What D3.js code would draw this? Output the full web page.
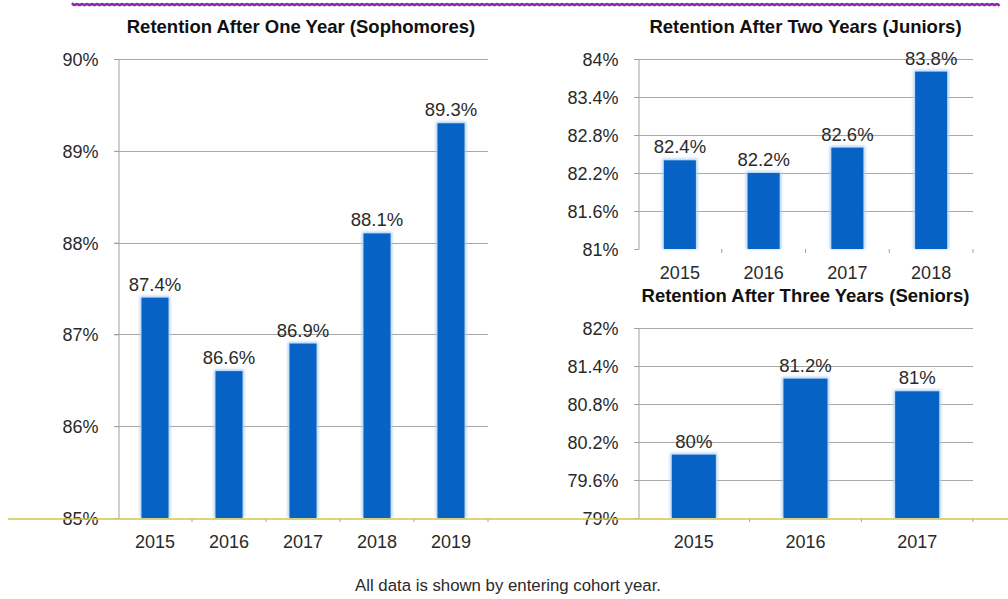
<!DOCTYPE html>
<html>
<head>
<meta charset="utf-8">
<script src="https://cdn.jsdelivr.net/npm/d3@7/dist/d3.min.js"></script>
<style>
  html, body { margin: 0; padding: 0; background: #fff; }
  svg { display: block; }
  text { font-family: "Liberation Sans", Arial, Helvetica, sans-serif; }
</style>
</head>
<body>
<svg id="chart" width="1008" height="599"></svg>
<script>
// Retention by entering cohort year
const sophYears = ["2015", "2016", "2017", "2018", "2019"];
const sophValues = [87.4, 86.6, 86.9, 88.1, 89.3];
const sophTicks = [85, 86, 87, 88, 89, 90];

const junYears = ["2015", "2016", "2017", "2018"];
const junValues = [82.4, 82.2, 82.6, 83.8];
const junTicks = [81, 81.6, 82.2, 82.8, 83.4, 84];

const senYears = ["2015", "2016", "2017"];
const senValues = [80, 81.2, 81];
const senTicks = [79, 79.6, 80.2, 80.8, 81.4, 82];

const svg = d3.select("#chart");
const BAR = "#0762c5";
const GLOW = "#a9cdf2";
const TXT = "#2a2a2a";

const defs = svg.append("defs");
defs.append("filter").attr("id", "glow")
  .attr("x", "-30%").attr("y", "-10%").attr("width", "160%").attr("height", "120%")
  .append("feGaussianBlur").attr("stdDeviation", 1.6);

function panel(opts) {
  const { x0, x1, y0, y1, years, values, ticks, barW, title, titleY, fmtLabel } = opts;
  const g = svg.append("g");
  const x = d3.scaleBand().domain(years).range([x0, x1]);
  const y = d3.scaleLinear().domain([ticks[0], ticks[ticks.length - 1]]).range([y1, y0]);

  // horizontal gridlines
  g.append("g").selectAll("line").data(ticks.slice(1)).join("line")
    .attr("x1", x0 - 4).attr("x2", x1)
    .attr("y1", d => Math.round(y(d)) + 0.5).attr("y2", d => Math.round(y(d)) + 0.5)
    .attr("stroke", "#a8a8a8").attr("stroke-width", 1.2);

  // y axis
  const yAxis = d3.axisLeft(y).tickValues(ticks).tickSize(4).tickPadding(16)
    .tickFormat(d => d3.format("~")(+d.toFixed(1)) + "%");
  const ya = g.append("g").attr("transform", `translate(${x0 + 0.5},0)`).call(yAxis);
  ya.select(".domain").attr("stroke", "#a0a0a0");
  ya.selectAll(".tick line").attr("stroke", "#a0a0a0");
  ya.selectAll("text").attr("font-size", 18).attr("fill", TXT).attr("dy", "0.36em");

  // x axis
  const xa = g.append("g").attr("transform", `translate(0,${y1 + 0.5})`)
    .call(d3.axisBottom(x).tickSize(0).tickPadding(17));
  xa.select(".domain").remove();
  xa.selectAll("text").attr("font-size", 18).attr("fill", TXT);
  g.append("g").selectAll("line").data(years.map((d, i) => i + 1)).join("line")
    .attr("x1", i => x0 + x.step() * i).attr("x2", i => x0 + x.step() * i)
    .attr("y1", y1).attr("y2", y1 + 4)
    .attr("stroke", "#a0a0a0");

  // bars with a soft light-blue halo
  const data = years.map((k, i) => ({ k, v: values[i] }));
  g.append("g").selectAll("rect").data(data).join("rect")
    .attr("x", d => x(d.k) + x.bandwidth() / 2 - barW / 2 - 1.5)
    .attr("width", barW + 3)
    .attr("y", d => y(d.v) - 1.5)
    .attr("height", d => y1 - y(d.v) + 1.5)
    .attr("fill", GLOW).attr("filter", "url(#glow)");
  g.append("g").selectAll("rect").data(data).join("rect")
    .attr("x", d => x(d.k) + x.bandwidth() / 2 - barW / 2)
    .attr("width", barW)
    .attr("y", d => y(d.v))
    .attr("height", d => y1 - y(d.v))
    .attr("fill", BAR);

  // value labels
  g.append("g").selectAll("text").data(data).join("text")
    .attr("x", d => x(d.k) + x.bandwidth() / 2)
    .attr("y", d => y(d.v) - 7)
    .attr("text-anchor", "middle")
    .attr("font-size", 18.5).attr("fill", TXT)
    .text(d => fmtLabel(d.v));

  // title
  svg.append("text").attr("x", (x0 + x1) / 2 + opts.titleDx).attr("y", titleY)
    .attr("text-anchor", "middle").attr("font-size", 18.5).attr("font-weight", "bold")
    .attr("fill", "#111").text(title);
}

const fmt = v => d3.format("~")(+v.toFixed(1)) + "%";

panel({ x0: 118, x1: 488, y0: 59, y1: 518, years: sophYears, values: sophValues, ticks: sophTicks,
  barW: 27, title: "Retention After One Year (Sophomores)", titleY: 33, titleDx: -2, fmtLabel: fmt });
panel({ x0: 638, x1: 973, y0: 59, y1: 249, years: junYears, values: junValues, ticks: junTicks,
  barW: 32, title: "Retention After Two Years (Juniors)", titleY: 33, titleDx: 0, fmtLabel: fmt });
panel({ x0: 638, x1: 973, y0: 328, y1: 518, years: senYears, values: senValues, ticks: senTicks,
  barW: 44, title: "Retention After Three Years (Seniors)", titleY: 302, titleDx: 0, fmtLabel: fmt });

// yellow rule across the bottom baseline
svg.append("line").attr("x1", 8).attr("x2", 1008).attr("y1", 519).attr("y2", 519)
  .attr("stroke", "#d2c54a").attr("stroke-width", 1.6);

// purple wavy rule along the top
const waveX = d3.range(72, 1002, 2.5);
svg.append("path")
  .attr("d", d3.line().curve(d3.curveBasis)(waveX.map((xv, i) => [xv, 4.5 + (i % 2 ? 1.4 : -1.4)])))
  .attr("fill", "none").attr("stroke", "#8a2aa6").attr("stroke-width", 2.6);

// footnote
svg.append("text").attr("x", 508).attr("y", 591).attr("text-anchor", "middle")
  .attr("font-size", 16.8).attr("fill", TXT)
  .text("All data is shown by entering cohort year.");
</script>
</body>
</html>
